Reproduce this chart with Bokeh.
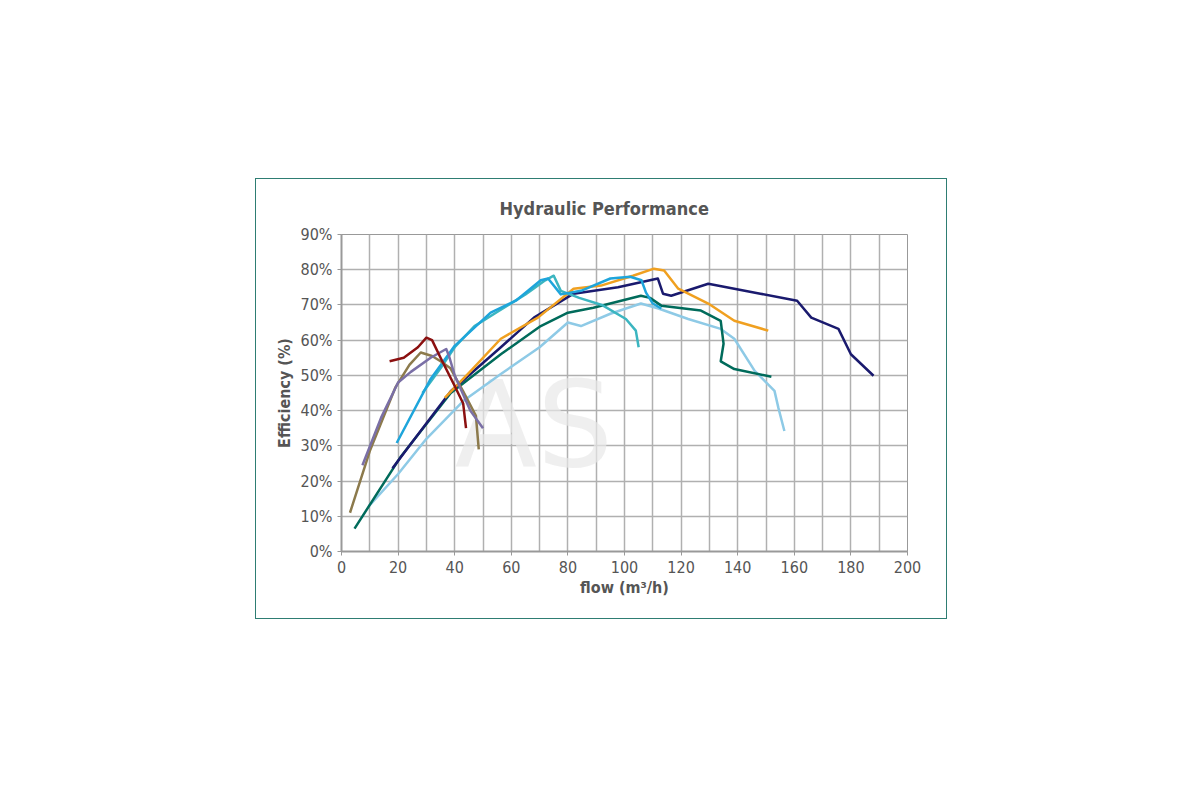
from bokeh.plotting import figure
from bokeh.embed import file_html
from bokeh.resources import INLINE
from bokeh.models import FixedTicker
from bokeh.core.properties import value

red_x = [17, 22, 27, 30, 32, 35, 40, 43, 44]
red_y = [54, 55, 58, 60.7, 60, 55, 47, 42, 35]
purple_x = [7.4, 14, 20, 24.5, 31.5, 37, 38, 40, 45.5, 50]
purple_y = [24.5, 38, 48, 51, 55, 57.5, 55.5, 50, 40, 35]
brown_x = [3, 10, 19, 24, 28, 32, 35, 38.5, 43, 47.5, 48.5]
brown_y = [11, 28.5, 46.5, 53, 56.5, 55.5, 54, 52, 45.5, 38.5, 29]
teal_x = [28.6, 35, 40, 47, 55, 65, 72, 75, 77.5, 84, 92, 100.5, 104, 105]
teal_y = [45, 52, 58, 64, 68, 73, 77, 78.3, 74, 72, 70, 66, 62.7, 58]
blue_x = [19.5, 31.5, 40, 52.7, 61.6, 70.4, 73, 77.5, 84.6, 95, 102, 106, 107.6, 110, 113]
blue_y = [30.8, 49, 58.4, 67.8, 71.2, 77, 77.5, 73, 74, 77.5, 78, 77, 73.5, 70.4, 69]
orange_x = [36.5, 45.7, 56.3, 69.4, 82, 91.7, 103, 110.4, 114, 119, 129.6, 138.8, 150.8]
orange_y = [43.6, 51.3, 60.4, 66.4, 74.6, 75.5, 78.3, 80.3, 79.8, 74.6, 70.4, 65.5, 62.7]
navy_x = [18, 24, 38.6, 56.3, 68, 82, 97.7, 111.8, 113.6, 116.5, 129.6, 148, 161, 166, 175.6, 180, 188]
navy_y = [23.6, 30, 45.5, 58, 66.4, 73.2, 75, 77.5, 73.2, 72.6, 76, 73.2, 71.2, 66.4, 63.2, 56, 49.9]
green_x = [4.6, 21, 38.6, 56.3, 70.4, 80, 89, 105.8, 109, 113, 127, 134, 135, 134, 138.8, 151.9]
green_y = [6.5, 27, 45, 56, 64, 67.8, 69.2, 72.6, 72, 69.8, 68.4, 65.5, 59, 54, 51.8, 49.6]
light_x = [9.6, 20, 30, 43, 56.3, 70, 80, 84.6, 95, 105.8, 112, 122.5, 134, 138.8, 146, 153, 154.4, 156.5]
light_y = [12.8, 22, 32, 42.7, 50.4, 58, 65, 64, 67.5, 70.4, 69, 66, 63.2, 60.4, 51.3, 45.6, 40.7, 34.2]

series = [
    (light_x, light_y, "#8ecae6"),
    (green_x, green_y, "#006b5b"),
    (navy_x, navy_y, "#1a1a6e"),
    (orange_x, orange_y, "#f0a020"),
    (teal_x, teal_y, "#3bb5c0"),
    (blue_x, blue_y, "#1ea5db"),
    (brown_x, brown_y, "#8c7a4c"),
    (purple_x, purple_y, "#7a6fa6"),
    (red_x, red_y, "#8b1010"),
]

xticks = list(range(0, 201, 20))
yticks = list(range(0, 91, 10))
ytick_labels = {t: f"{t}%" for t in yticks}

F = "DejaVu Sans Condensed"
p = figure(width=692, height=441, output_backend="svg", toolbar_location=None,
           x_range=(0, 200), y_range=(0, 90), title="Hydraulic Performance",
           min_border_left=85, min_border_right=41, min_border_top=55, min_border_bottom=69,
           margin=(178, 0, 0, 255), styles={"border": "1.5px solid #2e7d73"})
p.title.align = "left"
p.title.offset = 158
p.title.standoff = 32
p.title.text_font = F
p.title.text_font_size = "18px"
p.title.text_color = "#555555"
p.title.text_font_style = "bold"
p.outline_line_color = "#999999"
p.xaxis.ticker = FixedTicker(ticks=xticks)
p.yaxis.ticker = FixedTicker(ticks=yticks)
p.yaxis.major_label_overrides = ytick_labels
p.xgrid.ticker = FixedTicker(ticks=list(range(0, 201, 10)))
for ax in (p.xaxis[0], p.yaxis[0]):
    ax.major_label_text_font = F
    ax.major_label_text_font_size = "16px"
    ax.major_label_text_color = "#555555"
    ax.axis_label_text_font = F
    ax.axis_label_text_font_size = "16px"
    ax.axis_label_text_color = "#555555"
    ax.axis_label_text_font_style = "bold"
    ax.axis_line_color = "#999999"
    ax.axis_line_width = 2
    ax.major_tick_line_color = "#999999"
    ax.minor_tick_line_color = None
    ax.major_tick_out = 4
    ax.major_tick_in = 0
p.xaxis.axis_label = "flow (m³/h)"
p.yaxis.axis_label = "Efficiency (%)"
p.xaxis.axis_label_standoff = 2
p.yaxis.axis_label_standoff = 4
for g in (p.xgrid[0], p.ygrid[0]):
    g.grid_line_color = "#b0b0b0"
    g.grid_line_width = 1.5

p.text(x=[68], y=[36], text=["AS"], text_font=value("DejaVu Sans"), text_font_size="120px",
       text_color="#e8e8e8", text_align="center", text_baseline="middle", text_alpha=0.7)

for xs, ys, c in series:
    p.line(xs, ys, line_color=c, line_width=2.5, line_join="round")

open("out.html", "w").write(file_html(p, INLINE))
